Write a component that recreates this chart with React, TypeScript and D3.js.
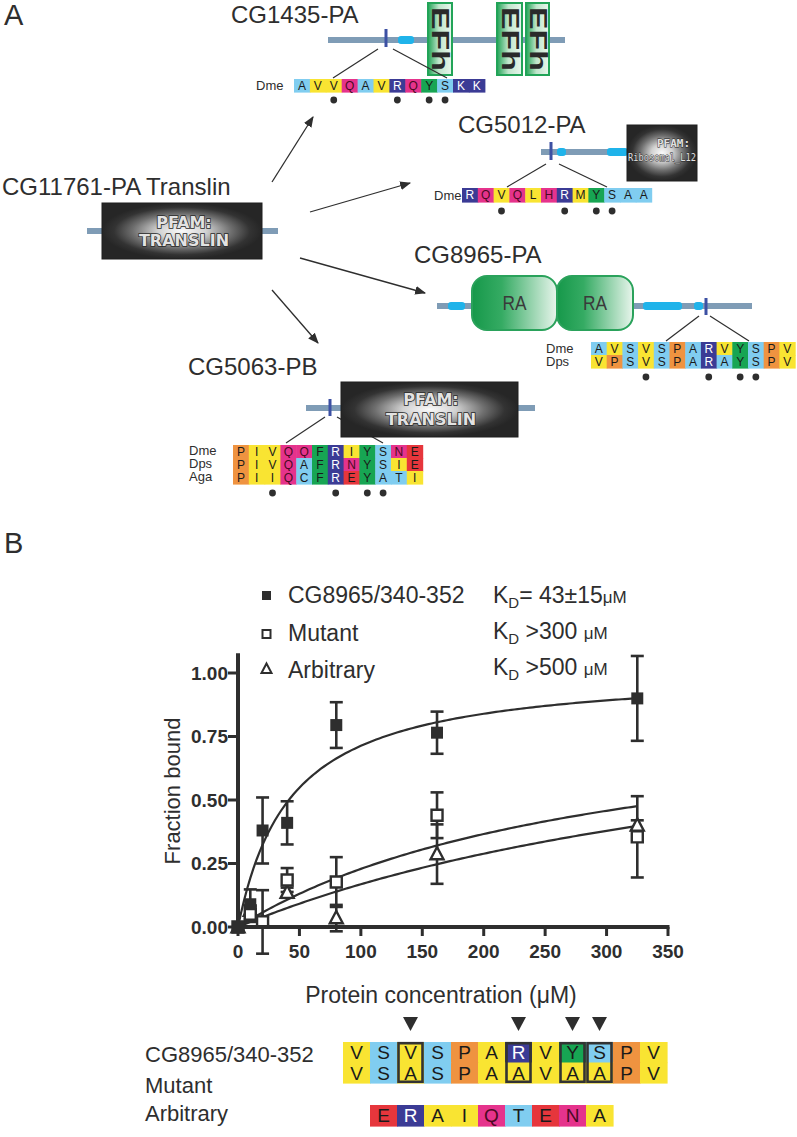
import React from 'react';
import * as d3 from 'd3';

const FONT = "'Liberation Sans', Arial, Helvetica, sans-serif";
const INK = '#2e2e2e';

// ---------- Panel B data ----------
const xTicks = [0, 50, 100, 150, 200, 250, 300, 350];
const yTicks = [0, 0.25, 0.5, 0.75, 1.0];
const concentrations = [0, 10, 20, 40, 80, 162, 325];
const peptideMean = [0, 0.09, 0.38, 0.41, 0.795, 0.765, 0.9];
const peptideErr = [0, 0.058, 0.13, 0.085, 0.09, 0.083, 0.167];
const mutantMean = [0, 0.05, 0.02, 0.185, 0.177, 0.44, 0.355];
const mutantErr = [0, 0.03, 0.125, 0.047, 0.098, 0.09, 0.16];
const arbitraryMean = [0, 0.065, 0.02, 0.135, 0.035, 0.287, 0.4];
const arbitraryErr = [0, 0.02, 0.02, 0.02, 0.052, 0.117, 0.02];
const seriesNames = ['CG8965/340-352', 'Mutant', 'Arbitrary'];
const kdRelations = ['= 43\u00b115', ' >300 ', ' >500 '];
const fitBmax = [1.02, 0.915, 1.01];
const fitKd = [43, 300, 500];

// ---------- Panel A data ----------
const cg1435Seq = ['AVVQAVRQYSKK'];
const cg5012Seq = ['RQVQLHRMYSAA'];
const cg8965Seq = ['AVSVSPARVYSPV', 'VPSVSPARAYSPV'];
const cg5063Seq = ['PIVQQFRIYSNE', 'PIVQAFRNYSIE', 'PIIQCFREYATI'];
const peptideSeq = ['VSVSPARVYSPV', 'VSASPAAVAAPV'];
const arbitrarySeq = ['ERAIQTENA'];
const dotCols4 = [2, 6, 8, 9];
const dotCols8965 = [3, 7, 9, 10];
const mutatedCols = [2, 6, 8, 9];

const C = {
  lb: '#80cdf0',
  ye: '#f9e432',
  ma: '#e5338c',
  db: '#3b3b95',
  gr: '#17a553',
  or: '#ef9340',
  re: '#e6363c',
};
const topScheme: Record<string, string> = {
  A: C.lb, S: C.lb, T: C.lb, C: C.lb,
  V: C.ye, I: C.ye, L: C.ye, M: C.ye,
  Q: C.ma, N: C.ma, H: C.ma,
  R: C.db, K: C.db,
  Y: C.gr, F: C.gr,
  P: C.or, E: C.re,
};
const bottomScheme: Record<string, string> = { ...topScheme, A: C.ye };

function textColor(bg: string) {
  if (bg === C.db) return '#ffffff';
  if (bg === C.ma) return '#4a0a22';
  return '#1a1a1a';
}

function SeqBlock({ x0, y0, w, h, rows, scheme, fontSize, colOffset = 0 }: any) {
  const items: any[] = [];
  rows.forEach((row: string, r: number) => {
    row.split('').forEach((ch: string, c: number) => {
      const bg = scheme[ch] || '#ccc';
      const x = x0 + (c + colOffset) * w;
      const y = y0 + r * h;
      items.push(<rect key={`r${r}-${c}`} x={x} y={y} width={w + 0.6} height={h + 0.6} fill={bg} />);
      items.push(
        <text key={`t${r}-${c}`} x={x + w / 2} y={y + h / 2 + fontSize * 0.36} textAnchor="middle"
          fontFamily={FONT} fontSize={fontSize} fill={textColor(bg)}>{ch}</text>
      );
    });
  });
  return <g>{items}</g>;
}

function Dots({ x0, w, y, cols }: any) {
  return <g>{cols.map((c: number) => <circle key={c} cx={x0 + (c + 0.5) * w} cy={y} r={3.4} fill={INK} />)}</g>;
}

function Backbone({ x1, x2, y }: any) {
  return <rect x={x1} y={y - 3} width={x2 - x1} height={6} fill="#7f9cb6" />;
}
function Cyan({ x1, x2, y }: any) {
  return <rect x={x1} y={y - 4} width={x2 - x1} height={8} rx={3} fill="#1fb3ea" />;
}
function Marker({ x, y1, y2 }: any) {
  return <rect x={x - 1.5} y={y1} width={3} height={y2 - y1} fill="#3c50a3" />;
}

function PfamText({ cx, y1, y2, l1, l2 }: any) {
  const st = { fontFamily: "'DejaVu Sans', Verdana, sans-serif", fontWeight: 700, fontSize: 16 } as any;
  return (
    <g>
      <text x={cx} y={y1} textAnchor="middle" style={st} fill="#e2e2e2" stroke="#2a2a2a" strokeWidth={1.6} paintOrder="stroke">{l1}</text>
      <text x={cx} y={y2} textAnchor="middle" style={st} fill="#e2e2e2" stroke="#2a2a2a" strokeWidth={1.6} paintOrder="stroke">{l2}</text>
    </g>
  );
}

function EFh({ x1, x2, y1, y2 }: any) {
  const cx = (x1 + x2) / 2, cy = (y1 + y2) / 2;
  return (
    <g>
      <rect x={x1} y={y1} width={x2 - x1} height={y2 - y1} fill="url(#efhGrad)" stroke="#22a458" strokeWidth={2} />
      <text x={0} y={0} transform={`translate(${cx - 8},${cy}) rotate(90)`} textAnchor="middle"
        fontFamily={FONT} fontWeight={700} fontSize={23} fill="#2a2a2a" textLength={64} lengthAdjust="spacingAndGlyphs">EFh</text>
    </g>
  );
}

function RA({ x1, x2, y1, y2 }: any) {
  return (
    <g>
      <rect x={x1} y={y1} width={x2 - x1} height={y2 - y1} rx={15} fill="url(#raGrad)" stroke="#2aa25b" strokeWidth={2} />
      <text x={(x1 + x2) / 2} y={(y1 + y2) / 2 + 7} textAnchor="middle" fontFamily={FONT} fontSize={20}
        fill="#3a3a3a" textLength={24} lengthAdjust="spacingAndGlyphs">RA</text>
    </g>
  );
}

export default function App() {
  const W = 797, H = 1137;
  const x = d3.scaleLinear().domain([0, 350]).range([238, 668]);
  const y = d3.scaleLinear().domain([0, 1]).range([927, 673]);
  const means = [peptideMean, mutantMean, arbitraryMean];
  const errs = [peptideErr, mutantErr, arbitraryErr];

  const curves = fitBmax.map((B, k) => {
    const pts = d3.range(0, 325.01, 2.5);
    return d3.line<number>().x((c) => x(c)).y((c) => y((B * c) / (fitKd[k] + c)))(pts) as string;
  });

  const sqPath = (cx: number, cy: number, s: number) => `M${cx - s / 2},${cy - s / 2}h${s}v${s}h${-s}Z`;
  const triPath = (cx: number, cy: number, s: number) =>
    `M${cx},${cy - s * 0.55}L${cx + s / 2},${cy + s * 0.4}L${cx - s / 2},${cy + s * 0.4}Z`;

  // bottom sequence layout
  const bx0 = 343, bw = 27, bh = 20.5, by0 = 1042;

  return (
    <svg width={W} height={H} style={{ position: 'absolute', left: 0, top: 0 }} xmlns="http://www.w3.org/2000/svg">
      <defs>
        <radialGradient id="pfamGrad" cx="0.5" cy="0.5" r="0.5">
          <stop offset="0" stopColor="#fafafa" />
          <stop offset="0.3" stopColor="#d2d2d2" />
          <stop offset="0.62" stopColor="#6e6e6e" />
          <stop offset="0.85" stopColor="#333333" />
          <stop offset="1" stopColor="#262626" />
        </radialGradient>
        <linearGradient id="efhGrad" x1="0" x2="1" y1="0" y2="0">
          <stop offset="0" stopColor="#22a356" />
          <stop offset="0.45" stopColor="#bfe5cb" />
          <stop offset="1" stopColor="#e9f6ed" />
        </linearGradient>
        <linearGradient id="raGrad" x1="0" x2="1" y1="0" y2="0">
          <stop offset="0" stopColor="#16984a" />
          <stop offset="0.35" stopColor="#35ab63" />
          <stop offset="1" stopColor="#e8f5ec" />
        </linearGradient>
        <marker id="arr" viewBox="0 0 10 10" refX="9" refY="5" markerWidth="11" markerHeight="11"
          orient="auto" markerUnits="userSpaceOnUse">
          <path d="M0,1 L10,5 L0,9 Z" fill={INK} />
        </marker>
      </defs>
      <rect width={W} height={H} fill="#ffffff" />

      {/* ================= Panel A ================= */}
      <text x={4} y={25} fontFamily={FONT} fontSize={29} fill={INK}>A</text>

      {/* CG1435-PA */}
      <text x={231} y={23} fontFamily={FONT} fontSize={24} fill={INK}>CG1435-PA</text>
      <Backbone x1={328} x2={565} y={40} />
      <Cyan x1={398} x2={414} y={40} />
      <Marker x={386} y1={29} y2={47} />
      <EFh x1={428} x2={452} y1={3} y2={75} />
      <EFh x1={497} x2={522} y1={3} y2={75} />
      <EFh x1={526} x2={549} y1={3} y2={75} />
      <line x1={378} y1={49} x2={333} y2={78} stroke={INK} strokeWidth={1.2} />
      <line x1={393} y1={49} x2={447} y2={78} stroke={INK} strokeWidth={1.2} />
      <text x={256} y={90} fontFamily={FONT} fontSize={13} fill={INK}>Dme</text>
      <SeqBlock x0={294} y0={79} w={15.9} h={13} rows={cg1435Seq} scheme={topScheme} fontSize={12} />
      <Dots x0={294} w={15.9} y={100} cols={dotCols4} />

      {/* CG5012-PA */}
      <text x={458} y={133} fontFamily={FONT} fontSize={24} fill={INK}>CG5012-PA</text>
      <Backbone x1={541} x2={628} y={152} />
      <Cyan x1={557} x2={566} y={152} />
      <Cyan x1={607} x2={628} y={152} />
      <Marker x={551} y1={142} y2={160} />
      <rect x={627} y={125} width={70} height={56} fill="url(#pfamGrad)" stroke="#1e1e1e" strokeWidth={1} />
      <text x={657} y={147} fontFamily="'DejaVu Sans Mono', monospace" fontWeight={700} fontSize={11}
        fill="#e0e0e0" stroke="#222" strokeWidth={0.8} paintOrder="stroke">PFAM:</text>
      <text x={628} y={161} fontFamily="'DejaVu Sans Mono', monospace" fontSize={10} fill="#e0e0e0"
        stroke="#222" strokeWidth={0.8} paintOrder="stroke" textLength={68} lengthAdjust="spacingAndGlyphs">Ribosomal_L12</text>
      <line x1={546} y1={164} x2={507} y2={187} stroke={INK} strokeWidth={1.2} />
      <line x1={559} y1={164} x2={607} y2={187} stroke={INK} strokeWidth={1.2} />
      <text x={434} y={200} fontFamily={FONT} fontSize={13} fill={INK}>Dme</text>
      <SeqBlock x0={462} y0={188} w={15.8} h={14} rows={cg5012Seq} scheme={topScheme} fontSize={12} />
      <Dots x0={462} w={15.8} y={211} cols={dotCols4} />

      {/* CG11761-PA Translin */}
      <text x={2} y={195} fontFamily={FONT} fontSize={24} fill={INK}>CG11761-PA Translin</text>
      <Backbone x1={87} x2={278} y={231} />
      <rect x={102} y={203} width={160} height={56} fill="url(#pfamGrad)" stroke="#1e1e1e" strokeWidth={1} />
      <PfamText cx={184} y1={228} y2={246} l1="PFAM:" l2="TRANSLIN" />

      {/* arrows */}
      <line x1={272} y1={182} x2={313} y2={117} stroke={INK} strokeWidth={1.3} markerEnd="url(#arr)" />
      <line x1={310} y1={212} x2={410} y2={183} stroke={INK} strokeWidth={1.3} markerEnd="url(#arr)" />
      <line x1={300} y1={258} x2={425} y2={293} stroke={INK} strokeWidth={1.3} markerEnd="url(#arr)" />
      <line x1={272} y1={290} x2={318} y2={343} stroke={INK} strokeWidth={1.3} markerEnd="url(#arr)" />

      {/* CG8965-PA */}
      <text x={414} y={263} fontFamily={FONT} fontSize={24} fill={INK}>CG8965-PA</text>
      <Backbone x1={437} x2={752} y={306} />
      <Cyan x1={448} x2={465} y={306} />
      <Cyan x1={643} x2={682} y={306} />
      <Cyan x1={694} x2={703} y={306} />
      <RA x1={472} x2={557} y1={276} y2={330} />
      <RA x1={557} x2={633} y1={276} y2={330} />
      <Marker x={706} y1={298} y2={315} />
      <line x1={699} y1={316} x2={666} y2={341} stroke={INK} strokeWidth={1.2} />
      <line x1={710} y1={316} x2={749} y2={341} stroke={INK} strokeWidth={1.2} />
      <text x={546} y={353} fontFamily={FONT} fontSize={13} fill={INK}>Dme</text>
      <text x={546} y={366} fontFamily={FONT} fontSize={13} fill={INK}>Dps</text>
      <SeqBlock x0={591} y0={342} w={15.7} h={13} rows={cg8965Seq} scheme={topScheme} fontSize={12} />
      <Dots x0={591} w={15.7} y={377} cols={dotCols8965} />

      {/* CG5063-PB */}
      <text x={188} y={375} fontFamily={FONT} fontSize={24} fill={INK}>CG5063-PB</text>
      <Backbone x1={306} x2={535} y={408} />
      <Marker x={330} y1={399} y2={416} />
      <line x1={325} y1={417} x2={286} y2={443} stroke={INK} strokeWidth={1.2} />
      <line x1={337} y1={417} x2={383} y2={443} stroke={INK} strokeWidth={1.2} />
      <rect x={341} y={382} width={177} height={55} fill="url(#pfamGrad)" stroke="#1e1e1e" strokeWidth={1} />
      <PfamText cx={431} y1={405} y2={425} l1="PFAM:" l2="TRANSLIN" />
      <text x={189} y={455} fontFamily={FONT} fontSize={13} fill={INK}>Dme</text>
      <text x={189} y={468} fontFamily={FONT} fontSize={13} fill={INK}>Dps</text>
      <text x={189} y={481} fontFamily={FONT} fontSize={13} fill={INK}>Aga</text>
      <SeqBlock x0={233} y0={445} w={15.8} h={13} rows={cg5063Seq} scheme={topScheme} fontSize={12} />
      <Dots x0={233} w={15.8} y={493} cols={dotCols4} />

      {/* ================= Panel B ================= */}
      <text x={4} y={553} fontFamily={FONT} fontSize={29} fill={INK}>B</text>

      {/* legend */}
      <path d={sqPath(266.5, 595.5, 9)} fill={INK} />
      <path d={sqPath(266.5, 634, 8)} fill="#fff" stroke={INK} strokeWidth={2} />
      <path d={triPath(266.5, 669, 10)} fill="#fff" stroke={INK} strokeWidth={2} />
      {seriesNames.map((n, i) => (
        <text key={n} x={288} y={603 + i * 37.5} fontFamily={FONT} fontSize={23} fill={INK}>{n}</text>
      ))}
      {kdRelations.map((rel, i) => (
        <text key={i} x={493} y={603 + i * 36} fontFamily={FONT} fontSize={23} fill={INK}>
          K<tspan fontSize={15} dy={5}>D</tspan><tspan dy={-5}>{rel}</tspan><tspan fontSize={17}>{'\u03bcM'}</tspan>
        </text>
      ))}

      {/* curves */}
      {curves.map((d, i) => <path key={i} d={d} fill="none" stroke={INK} strokeWidth={2.2} />)}

      {/* error bars */}
      {means.map((m, s) => (
        <g key={s}>
          {concentrations.map((c, i) => {
            const e = errs[s][i];
            if (e <= 0) return null;
            const cx = x(c), yt = y(m[i] + e), yb = y(m[i] - e);
            return (
              <g key={i} stroke={INK} strokeWidth={2.6}>
                <line x1={cx} x2={cx} y1={yt} y2={yb} />
                <line x1={cx - 6.5} x2={cx + 6.5} y1={yt} y2={yt} />
                <line x1={cx - 6.5} x2={cx + 6.5} y1={yb} y2={yb} />
              </g>
            );
          })}
        </g>
      ))}

      {/* markers */}
      {concentrations.map((c, i) => (
        <path key={`a${i}`} d={triPath(x(c), y(arbitraryMean[i]), 13)} fill="#fff" stroke={INK} strokeWidth={2.4} />
      ))}
      {concentrations.map((c, i) => (
        <path key={`m${i}`} d={sqPath(x(c), y(mutantMean[i]), 11)} fill="#fff" stroke={INK} strokeWidth={2.4} />
      ))}
      {concentrations.map((c, i) => (
        <path key={`p${i}`} d={sqPath(x(c), y(peptideMean[i]), 12)} fill={INK} />
      ))}

      {/* axes */}
      <line x1={x(0)} x2={x(0)} y1={y(1.078)} y2={y(0) + 2} stroke={INK} strokeWidth={4} />
      <line x1={x(0) - 2} x2={x(350) + 1.5} y1={y(0)} y2={y(0)} stroke={INK} strokeWidth={4} />
      {yTicks.map((t) => (
        <g key={t}>
          <line x1={x(0) - 10} x2={x(0)} y1={y(t)} y2={y(t)} stroke={INK} strokeWidth={3} />
          <text x={x(0) - 10} y={y(t) + 6.5} textAnchor="end" fontFamily={FONT} fontWeight={700} fontSize={19} fill={INK}>
            {t.toFixed(2)}
          </text>
        </g>
      ))}
      {xTicks.map((t) => (
        <g key={t}>
          <line x1={x(t)} x2={x(t)} y1={y(0)} y2={y(0) + 9} stroke={INK} strokeWidth={3} />
          <text x={x(t)} y={958} textAnchor="middle" fontFamily={FONT} fontWeight={700} fontSize={19} fill={INK}>{t}</text>
        </g>
      ))}
      <text transform="translate(180,791) rotate(-90)" textAnchor="middle" fontFamily={FONT} fontSize={22} fill={INK}>Fraction bound</text>
      <text x={441} y={1003} textAnchor="middle" fontFamily={FONT} fontSize={23} fill={INK}>Protein concentration ({'\u03bc'}M)</text>

      {/* bottom sequences */}
      {mutatedCols.map((c) => {
        const cx = bx0 + (c + 0.5) * bw;
        return <path key={c} d={`M${cx - 7.5},1017L${cx + 7.5},1017L${cx},1031Z`} fill={INK} />;
      })}
      <SeqBlock x0={bx0} y0={by0} w={bw} h={bh} rows={peptideSeq} scheme={bottomScheme} fontSize={19} />
      {mutatedCols.map((c) => (
        <rect key={c} x={bx0 + c * bw + 1.5} y={by0 + 1.2} width={bw - 3} height={bh * 2 - 2.4}
          fill="none" stroke="#333" strokeWidth={2.6} />
      ))}
      <SeqBlock x0={bx0} y0={1105} w={bw} h={21} rows={arbitrarySeq} scheme={bottomScheme} fontSize={19} colOffset={1} />
      <text x={145} y={1062} fontFamily={FONT} fontSize={22} fill={INK}>CG8965/340-352</text>
      <text x={145} y={1093} fontFamily={FONT} fontSize={22} fill={INK}>Mutant</text>
      <text x={145} y={1121} fontFamily={FONT} fontSize={22} fill={INK}>Arbitrary</text>
    </svg>
  );
}
